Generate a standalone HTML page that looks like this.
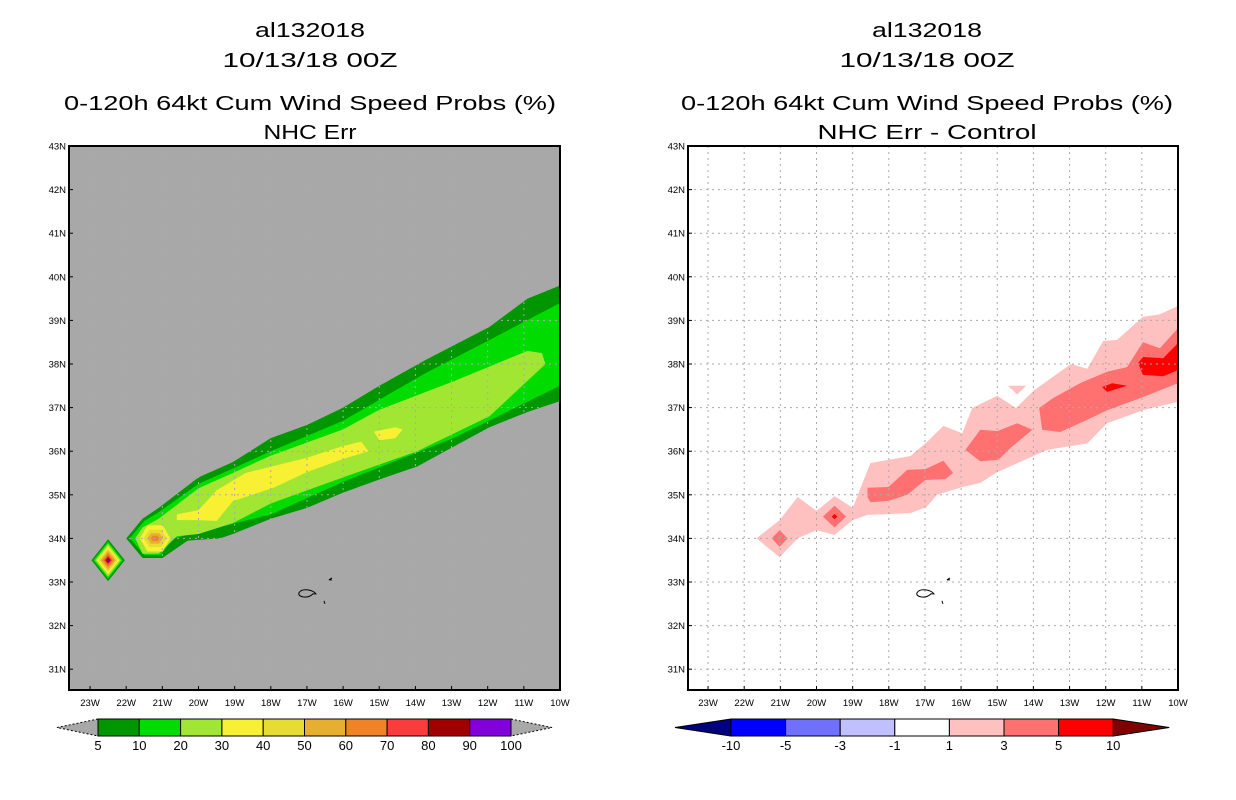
<!DOCTYPE html>
<html><head><meta charset="utf-8"><style>
body{margin:0;background:#fff;}
svg{display:block;font-family:"Liberation Sans",sans-serif;}
</style></head><body>
<svg id="s" width="1236" height="800" viewBox="0 0 1236 800" xmlns="http://www.w3.org/2000/svg"></svg>
<script>
// ---- data ----
const latTicks=[43,42,41,40,39,38,37,36,35,34,33,32,31];
const lonTicks=[23,22,21,20,19,18,17,16,15,14,13,12,11,10];
const probLevels=[5,10,20,30,40,50,60,70,80,90,100];
const probColors=["#009600","#00dc00","#a0e632","#f8f032","#e6dc32","#e6af2d","#f08228","#fa3c3c","#a00000","#8200dc"];
const diffLevels=[-10,-5,-3,-1,1,3,5,10];
const diffColors=["#0000ff","#7070ff","#c0c0ff","#ffffff","#ffc0c0","#ff7070","#ff0000"];
// left contours: [lonW, lat]
const p5=[[10,39.8],[10.9,39.5],[11.95,38.85],[13.7,38.1],[15,37.5],[16,37.0],[17,36.6],[18,36.3],[19.05,35.75],[20,35.4],[21.1,34.7],[21.55,34.45],[22,34.0],[21.55,33.55],[21,33.55],[20.3,33.95],[19.4,34.0],[19.05,34.1],[18,34.45],[17,34.7],[16,35.05],[15,35.35],[13.95,35.65],[12.95,36.1],[11.95,36.55],[10.9,36.9],[10,37.15]];
const p10=[[10,39.4],[11.95,38.55],[13.7,37.8],[16,36.7],[18,36.0],[19.05,35.6],[20,35.25],[21.1,34.6],[21.5,34.4],[21.9,34.0],[21.5,33.62],[21.05,33.62],[20.7,34.0],[20.2,34.1],[18,34.55],[16,35.3],[12.95,36.3],[10,37.5]];
const p20=[[10.5,38.25],[10.9,38.3],[12.95,37.6],[15,36.95],[16,36.5],[17,36.2],[18,35.9],[19.05,35.5],[20,35.15],[21.1,34.45],[21.55,34.25],[21.75,34.0],[21.55,33.65],[21.1,33.65],[20.6,34.05],[20,34.1],[19.05,34.35],[18,34.8],[17,35.1],[16,35.4],[13.95,36.0],[11.95,36.8],[10.4,38.0]];
const p30a=[[20.6,34.55],[20,34.65],[19.5,35.1],[18.7,35.5],[17,35.85],[16,36.12],[15.5,36.22],[15.3,36.0],[16,35.82],[17,35.52],[17.9,35.17],[19.05,34.85],[19.5,34.4],[20,34.42],[20.6,34.42]];
const p30b=[[15.15,36.45],[14.55,36.55],[14.35,36.5],[14.55,36.3],[15,36.25]];
const blobLon=21.2, blobLat=34.0;
const blobLevelIdx=[3,4,5,6];
const blobHalfW=[0.42,0.32,0.22,0.12];
const blobHalfH=[0.3,0.2,0.12,0.06];
const diaLon=22.5, diaLat=33.5;
const diaHalfW=[0.46,0.41,0.36,0.31,0.26,0.21,0.16,0.11,0.07,0.03];
const diaHalfH=[0.48,0.43,0.38,0.32,0.27,0.22,0.17,0.12,0.07,0.03];
// right contours
const d1=[[21.66,34.0],[21.02,34.42],[20.52,34.95],[20.0,34.63],[19.5,34.97],[19.0,34.7],[18.51,35.73],[17.4,35.89],[16.96,36.2],[16.49,36.58],[15.97,36.41],[15.69,36.99],[15.0,37.27],[14.48,36.99],[13.98,37.40],[12.96,38.0],[12.51,37.89],[12.07,38.53],[11.69,38.55],[10.97,39.08],[10.5,39.14],[10,39.33],[10,37.13],[10.97,36.94],[11.96,36.64],[12.51,36.18],[13.62,36.03],[15.0,35.52],[15.47,35.27],[15.97,35.18],[16.66,35.0],[16.96,34.72],[17.4,34.58],[18.59,34.54],[19.0,34.42],[19.5,34.08],[20.0,34.19],[20.52,34.0],[21.02,33.57]];
const d1b=[[14.7,37.5],[14.2,37.5],[14.45,37.3]];
const d3a=[[21.24,34.0],[21.02,34.19],[20.8,34.0],[21.02,33.81]];
const d3b=[[19.82,34.5],[19.5,34.75],[19.18,34.5],[19.5,34.25]];
const d3c=[[18.59,35.16],[18.01,35.18],[17.49,35.57],[16.99,35.59],[16.49,35.78],[16.22,35.5],[16.44,35.36],[16.99,35.34],[17.49,35.0],[18.01,34.86],[18.51,34.83],[18.59,34.95]];
const d3d=[[15.88,36.03],[15.47,36.49],[15.0,36.46],[14.45,36.64],[14.03,36.49],[14.64,36.07],[14.97,35.8],[15.47,35.77]];
const d3e=[[13.84,36.99],[13.45,37.22],[12.71,37.56],[11.96,37.82],[11.41,37.93],[10.97,38.5],[10.5,38.36],[10,38.82],[10,37.56],[10.97,37.24],[11.96,36.94],[12.51,36.72],[13.26,36.44],[13.76,36.49]];
const d5a=[[11.1,38.02],[10.97,38.16],[10.41,38.13],[10,38.48],[10,37.86],[10.41,37.72],[10.97,37.75]];
const d5b=[[12.1,37.47],[11.82,37.56],[11.41,37.5],[11.96,37.36]];
const d5c=[[19.58,34.5],[19.5,34.56],[19.42,34.5],[19.5,34.44]];

// ---- drawing ----
const NS="http://www.w3.org/2000/svg";
const svg=document.getElementById('s');
function el(tag,attrs,parent){const e=document.createElementNS(NS,tag);for(const k in attrs)e.setAttribute(k,attrs[k]);(parent||svg).appendChild(e);return e;}
const Y0=146,Y1=690,LAT_TOP=43,LAT_PX=43.6,LON_PX=36.15;
function makeAxes(x1){return {x:lw=>x1-(lw-10)*LON_PX,y:la=>Y0+(LAT_TOP-la)*LAT_PX};}
function poly(ax,pts,fill,parent,name){const p=el('polygon',{points:pts.map(q=>ax.x(q[0]).toFixed(1)+','+ax.y(q[1]).toFixed(1)).join(' '),fill:fill},parent);


return p;}
function panel(x0,x1,bg,cx,titles,widths,name){
  const g=el('g',{});
  
  
  titles.forEach((t,i)=>{const tt=el('text',{x:cx,y:[37,67,110,139][i],'text-anchor':'middle','font-size':'20',fill:'#000',textLength:widths[i],lengthAdjust:'spacingAndGlyphs'},g);tt.textContent=t;
    
    });
  const r=el('rect',{x:x0,y:Y0,width:x1-x0,height:Y1-Y0,fill:bg},g);
  
  
  const ax=makeAxes(x1);
  const cg=el('g',{},g);
  
  
  return {g,ax,cg,x0,x1};
}
function finish(P){
  const {g,ax,x0,x1}=P;
  const grid=el('g',{stroke:'#aaaaaa','stroke-width':1,'stroke-dasharray':'2,4'},g);
  
  
  latTicks.forEach(la=>{const y=ax.y(la);if(la<43)el('line',{x1:x0,x2:x1,y1:y,y2:y},grid);
    const t=el('text',{x:x0-3,y:y+3.5,'text-anchor':'end','font-size':'9.5',fill:'#000'},g);t.textContent=la+'N';
    
    
    el('line',{x1:x0,x2:x0+4,y1:y,y2:y,stroke:'#000'},g);});
  lonTicks.forEach(lw=>{const x=ax.x(lw);if(lw>10)el('line',{x1:x,x2:x,y1:Y0,y2:Y1},grid);
    const t=el('text',{x:x,y:706,'text-anchor':'middle','font-size':'9.5',fill:'#000'},g);t.textContent=lw+'W';
    
    
    el('line',{x1:x,x2:x,y1:Y1,y2:Y1-4,stroke:'#000'},g);});
  const isl=el('g',{fill:'none',stroke:'#000','stroke-width':1},g);
  
  
  const mx=ax.x(17.0),my=ax.y(32.75);
  el('path',{d:`M${mx-8} ${my} q2 -4 9 -3 q6 1 8 4 l-3 0 q-4 4 -10 3 q-5 -1 -4 -4z`},isl);
  el('path',{d:`M${mx+22} ${my-13} l3 -2 M${mx+22} ${my-13} l3 0`},isl);
  el('path',{d:`M${mx+17} ${my+8} l1 3`},isl);
  const fr=el('rect',{x:x0,y:Y0,width:x1-x0,height:Y1-Y0,fill:'none',stroke:'#000','stroke-width':2},g);
  
  
}
function diamond(lon,lat,hw,hh){return [[lon+hw,lat],[lon,lat+hh],[lon-hw,lat],[lon,lat-hh]];}
function hex(lon,lat,hw,hh){return [[lon+hw,lat],[lon+hw*0.5,lat+hh],[lon-hw*0.5,lat+hh],[lon-hw,lat],[lon-hw*0.5,lat-hh],[lon+hw*0.5,lat-hh]];}

// Left panel
const L=panel(69,560,'#a8a8a8',310,['al132018','10/13/18 00Z','0-120h 64kt Cum Wind Speed Probs (%)','NHC Err'],[110,175,492,93],'left-panel');
poly(L.ax,p5,probColors[0],L.cg,'contour-5');
poly(L.ax,p10,probColors[1],L.cg,'contour-10');
poly(L.ax,p20,probColors[2],L.cg,'contour-20');
poly(L.ax,p30a,probColors[3],L.cg,'contour-30');
poly(L.ax,p30b,probColors[3],L.cg,'contour-30-small');
blobLevelIdx.forEach((li,i)=>poly(L.ax,hex(blobLon,blobLat,blobHalfW[i],blobHalfH[i]),probColors[li],L.cg,'blob-contour-'+probLevels[li]));
diaHalfW.forEach((w,i)=>poly(L.ax,diamond(diaLon,diaLat,w,diaHalfH[i]),probColors[i],L.cg,'diamond-contour-'+probLevels[i]));
finish(L);

// Right panel
const R=panel(688,1178,'#ffffff',927,['al132018','10/13/18 00Z','0-120h 64kt Cum Wind Speed Probs (%)','NHC Err - Control'],[110,175,492,219],'right-panel');
poly(R.ax,d1,diffColors[4],R.cg,'diff-contour-1');
poly(R.ax,d1b,diffColors[4],R.cg,'diff-contour-1-small');
[d3a,d3b,d3c,d3d,d3e].forEach(p=>poly(R.ax,p,diffColors[5],R.cg,'diff-contour-3'));
[d5a,d5b,d5c].forEach(p=>poly(R.ax,p,diffColors[6],R.cg,'diff-contour-5'));
finish(R);

// Colorbars
function colorbar(bx,bw,levels,colors,leftTri,rightTri,triLen,name,triDash){
  const g=el('g',{});
  
  
  const y0=719,y1=736,ym=727.5;const n=colors.length;const x1=bx+bw*n;
  const lt=el('polygon',{points:`${bx},${y0} ${bx-triLen},${ym} ${bx},${y1}`,fill:leftTri,stroke:triDash?'none':'#000'},g);
  
  
  const rt=el('polygon',{points:`${x1},${y0} ${x1+triLen},${ym} ${x1},${y1}`,fill:rightTri,stroke:triDash?'none':'#000'},g);
  
  
  if(triDash){el('path',{d:`M${bx} ${y0} L${bx-triLen} ${ym} L${bx} ${y1} M${x1} ${y0} L${x1+triLen} ${ym} L${x1} ${y1}`,fill:'none',stroke:'#000','stroke-dasharray':'2,2'},g);}
  colors.forEach((c,i)=>{const r=el('rect',{x:bx+i*bw,y:y0,width:bw,height:y1-y0,fill:c,stroke:'#000','stroke-width':1},g);
    
    });
  levels.forEach((v,i)=>{const t=el('text',{x:bx+i*bw,y:750,'text-anchor':'middle','font-size':'13',fill:'#000'},g);t.textContent=v;
    
    });
}
colorbar(98,41.3,probLevels,probColors,'#a8a8a8','#a8a8a8',41,'prob-colorbar',true);
colorbar(731,54.6,diffLevels,diffColors,'#000080','#800000',56,'diff-colorbar',false);
</script>
</body></html>
